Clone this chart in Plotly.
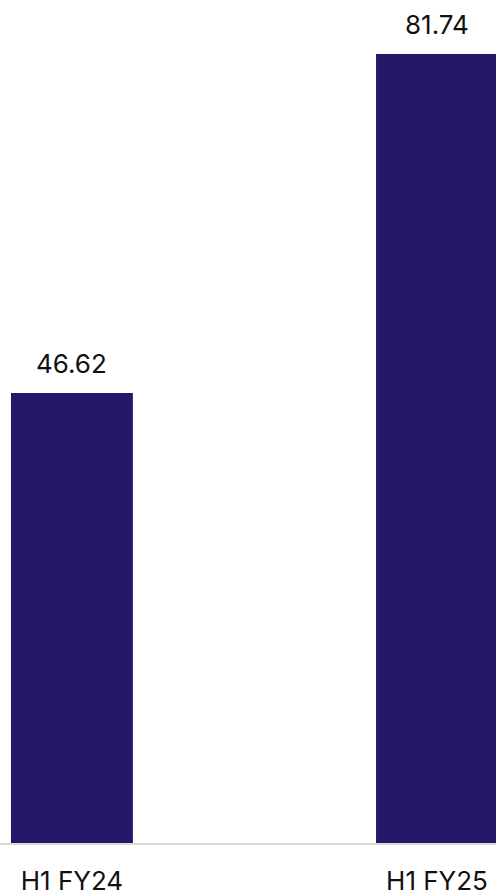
import plotly.graph_objects as go

categories = ["H1 FY24", "H1 FY25"]
values = [46.62, 81.74]
value_labels = ["46.62", "81.74"]

bar_color = "#261869"

fig = go.Figure()
fig.add_trace(go.Bar(
    x=[0, 1], y=values, width=0.334,
    marker=dict(color=bar_color, line=dict(width=0)),
    hoverinfo="skip",
))

for i, (v, t) in enumerate(zip(values, value_labels)):
    fig.add_annotation(x=i, y=v, text=t, showarrow=False, yanchor="bottom",
                       yshift=12, font=dict(family="Inter", size=26, color="#111111"))

fig.update_layout(
    width=496, height=895,
    margin=dict(l=0, r=0, t=0, b=52, autoexpand=False),
    paper_bgcolor="white", plot_bgcolor="white",
    showlegend=False,
    xaxis=dict(range=[-0.197, 1.1616], tickmode="array", tickvals=[0, 1],
               ticktext=categories, showgrid=False, zeroline=False,
               showline=True, linecolor="#d9d9d9", linewidth=2,
               ticks="", ticklen=0, ticklabelstandoff=14, automargin=False,
               tickfont=dict(family="Inter", size=26, color="#111111")),
    yaxis=dict(range=[0, 87.34], visible=False, showgrid=False, zeroline=False,
               automargin=False),
)

fig.write_html("out.html", config={"displayModeBar": False},
               post_script="document.body.style.margin='0';document.body.style.overflow='hidden';")
